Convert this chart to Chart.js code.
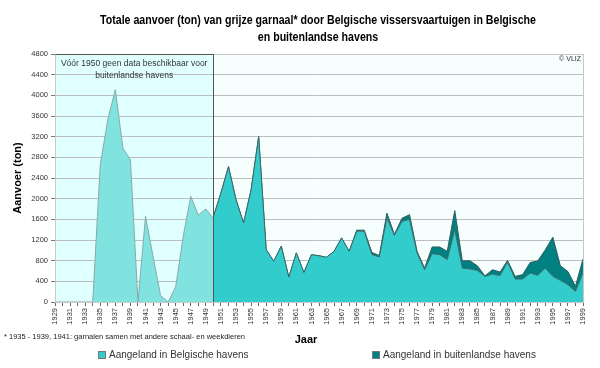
<!DOCTYPE html>
<html>
<head>
<meta charset="utf-8">
<script src="https://cdn.jsdelivr.net/npm/chart.js@4.4.0/dist/chart.umd.min.js"></script>
<style>
  html, body { margin: 0; padding: 0; background: #fff; }
  #wrap { width: 600px; height: 368px; }
</style>
</head>
<body>
<div id="wrap"><canvas id="chart" width="600" height="368"></canvas></div>
<script>
// Categories
const years = [
  1929, 1930, 1931, 1932, 1933, 1934, 1935, 1936, 1937, 1938, 1939, 1940,
  1941, 1942, 1943, 1944, 1945, 1946, 1947, 1948, 1949, 1950, 1951, 1952,
  1953, 1954, 1955, 1956, 1957, 1958, 1959, 1960, 1961, 1962, 1963, 1964,
  1965, 1966, 1967, 1968, 1969, 1970, 1971, 1972, 1973, 1974, 1975, 1976,
  1977, 1978, 1979, 1980, 1981, 1982, 1983, 1984, 1985, 1986, 1987, 1988,
  1989, 1990, 1991, 1992, 1993, 1994, 1995, 1996, 1997, 1998, 1999
];

// 1929 - 1950 (no split between ports available)
const pre1950 = [
  0, 0, 0, 0, 0, 0, 2650, 3530, 4110, 2980, 2750, 0,
  1660, 880, 120, 0, 290, 1270, 2045, 1680, 1800, 1620
];

// 1950 - 1999
const belgianPorts = [
  1650, 2110, 2620, 1980, 1530, 2170, 3200, 1010, 790, 1080,
  480, 950, 570, 915, 895, 865, 980, 1240, 980, 1370,
  1370, 920, 870, 1630, 1290, 1560, 1600, 950, 625, 935,
  915, 820, 1400, 655, 640, 610, 495, 540, 510, 775,
  445, 445, 560, 515, 655, 495, 420, 335, 205, 560
];
const foreignPorts = [
  0, 0, 0, 0, 0, 0, 0, 0, 0, 0,
  0, 0, 0, 0, 0, 0, 0, 0, 0, 20,
  20, 40, 30, 90, 20, 60, 90, 30, 30, 130,
  150, 160, 370, 140, 160, 90, 10, 85, 70, 30,
  50, 85, 205, 280, 355, 760, 280, 255, 100, 270
];

const yTicks = { min: 0, max: 4800, step: 400 };

const FONT = '"Liberation Sans", Arial, sans-serif';

// pad the series onto the full year axis
const preData = years.map((y, i) => i < pre1950.length ? pre1950[i] : null);
const belgianData = years.map(y => y >= 1950 ? belgianPorts[y - 1950] : null);
const foreignData = years.map(y => y >= 1950 ? foreignPorts[y - 1950] : null);

// draw text squeezed to look like the condensed title face
function squeezedText(ctx, text, x, y, sx) {
  ctx.save();
  ctx.translate(x, y);
  ctx.scale(sx, 1);
  ctx.fillText(text, 0, 0);
  ctx.restore();
}

const decorPlugin = {
  id: 'decor',
  beforeDraw(chart) {
    const { ctx, chartArea: a, scales } = chart;
    const x50 = scales.x.getPixelForValue(years.indexOf(1950));
    ctx.save();
    ctx.fillStyle = '#ffffff';
    ctx.fillRect(0, 0, chart.width, chart.height);
    ctx.fillStyle = '#f6fefe';
    ctx.fillRect(a.left, a.top, a.right - a.left, a.bottom - a.top);
    ctx.fillStyle = '#e0ffff';
    ctx.fillRect(a.left, a.top, x50 - a.left, a.bottom - a.top);
    ctx.restore();
  },
  afterDatasetsDraw(chart) {
    const { ctx, chartArea: a, scales } = chart;
    const x50 = Math.round(scales.x.getPixelForValue(years.indexOf(1950))) + 0.5;
    ctx.save();
    ctx.lineWidth = 1;
    // light frame round the plot
    ctx.strokeStyle = '#c8c8c8';
    ctx.strokeRect(Math.round(a.left) + 0.5, Math.round(a.top) + 0.5, Math.round(a.right - a.left), Math.round(a.bottom - a.top));
    // box for the pre-1950 part
    ctx.strokeStyle = '#555';
    ctx.beginPath();
    ctx.moveTo(Math.round(a.left) + 0.5, Math.round(a.top) + 0.5);
    ctx.lineTo(x50, Math.round(a.top) + 0.5);
    ctx.moveTo(x50, a.top);
    ctx.lineTo(x50, a.bottom);
    ctx.stroke();
    ctx.restore();
  },
  afterDraw(chart) {
    const { ctx, chartArea: a, scales } = chart;
    const x50 = scales.x.getPixelForValue(years.indexOf(1950));
    ctx.save();
    ctx.fillStyle = '#000';
    ctx.textAlign = 'center';
    ctx.textBaseline = 'middle';
    ctx.font = 'bold 12.5px ' + FONT;
    const t1 = 'Totale aanvoer (ton) van grijze garnaal* door Belgische vissersvaartuigen in Belgische';
    const sx = 436 / ctx.measureText(t1).width;
    squeezedText(ctx, t1, 318, 21, sx);
    squeezedText(ctx, 'en buitenlandse havens', 318, 38, sx);

    // annotation inside the pre-1950 box
    ctx.fillStyle = '#333';
    ctx.font = '8.5px ' + FONT;
    const cx = (a.left + x50) / 2;
    ctx.fillText('Vóór 1950 geen data beschikbaar voor', cx, 64);
    ctx.fillText('buitenlandse havens', cx, 76);

    ctx.font = '7px ' + FONT;
    ctx.textAlign = 'right';
    ctx.fillText('© VLIZ', a.right - 2, 59);

    // axis titles
    ctx.fillStyle = '#000';
    ctx.textAlign = 'center';
    ctx.font = 'bold 11px ' + FONT;
    ctx.fillText('Jaar', 306, 340);
    ctx.save();
    ctx.translate(18, 178);
    ctx.rotate(-Math.PI / 2);
    ctx.fillText('Aanvoer (ton)', 0, 0);
    ctx.restore();

    // footnote
    ctx.fillStyle = '#222';
    ctx.textAlign = 'left';
    ctx.font = '7.5px ' + FONT;
    ctx.fillText('* 1935 - 1939, 1941: garnalen samen met andere schaal- en weekdieren', 4, 337);

    // legend
    const items = [
      { ds: 1, x: 98 },
      { ds: 2, x: 372 }
    ];
    ctx.font = '10px ' + FONT;
    items.forEach(it => {
      const d = chart.data.datasets[it.ds];
      ctx.fillStyle = d.backgroundColor;
      ctx.fillRect(it.x, 351, 8, 8);
      ctx.strokeStyle = '#777';
      ctx.strokeRect(it.x + 0.5, 351.5, 7, 7);
      ctx.fillStyle = '#333';
      ctx.fillText(d.label, it.x + 11, 355.5);
    });
    ctx.restore();
  }
};

const ctx = document.getElementById('chart').getContext('2d');
new Chart(ctx, {
  type: 'line',
  data: {
    labels: years.map(String),
    datasets: [
      {
        label: 'Vóór 1950',
        data: preData,
        stack: 'pre',
        fill: 'origin',
        backgroundColor: '#80e3df',
        borderColor: '#8aa9a9',
        borderWidth: 1,
        pointRadius: 0,
        tension: 0
      },
      {
        label: 'Aangeland in Belgische havens',
        data: belgianData,
        stack: 'post',
        fill: 'origin',
        backgroundColor: '#33cccc',
        borderColor: '#3d6868',
        borderWidth: 1,
        pointRadius: 0,
        tension: 0
      },
      {
        label: 'Aangeland in buitenlandse havens',
        data: foreignData,
        stack: 'post',
        fill: '-1',
        backgroundColor: '#008080',
        borderColor: '#2f5f5f',
        borderWidth: 1,
        pointRadius: 0,
        tension: 0
      }
    ]
  },
  options: {
    responsive: false,
    animation: false,
    devicePixelRatio: 1,
    layout: { padding: { left: 30, right: 17, top: 54, bottom: 0 } },
    plugins: {
      legend: { display: false },
      tooltip: { enabled: false },
      title: { display: false }
    },
    scales: {
      x: {
        type: 'category',
        offset: false,
        grid: { drawOnChartArea: false, tickLength: 4, color: '#666' },
        border: { color: '#333' },
        ticks: {
          autoSkip: false,
          minRotation: 90,
          maxRotation: 90,
          padding: 2,
          color: '#333',
          font: { family: FONT, size: 7.5 },
          callback(v, i) { return i % 2 === 0 ? this.getLabelForValue(v) : ''; }
        },
        afterFit(scale) { scale.height = 66; }
      },
      y: {
        stacked: true,
        min: yTicks.min,
        max: yTicks.max,
        grid: { color: '#bdbdbd', tickLength: 4, tickColor: '#777' },
        border: { color: '#888' },
        ticks: {
          stepSize: yTicks.step,
          padding: 3,
          color: '#333',
          font: { family: FONT, size: 7.5 },
          callback: v => String(v)
        },
        afterFit(scale) { scale.width = 25; }
      }
    }
  },
  plugins: [decorPlugin]
});
</script>
</body>
</html>
